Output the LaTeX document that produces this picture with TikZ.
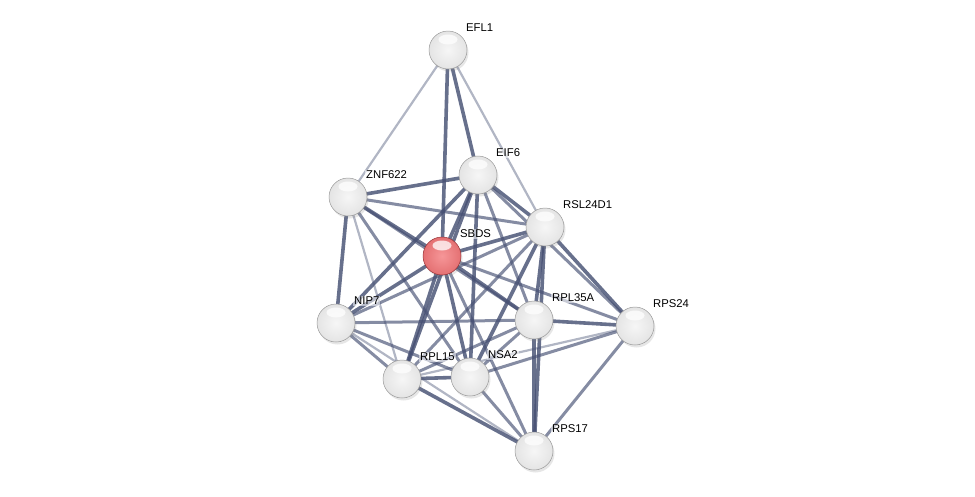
\documentclass[tikz,border=0pt]{standalone}
\usepackage{fontspec}
\setmainfont{Liberation Sans}
\usetikzlibrary{shadows}
\definecolor{edgecol}{RGB}{70,80,115}
\definecolor{gA}{RGB}{246,246,246}
\definecolor{gB}{RGB}{226,226,226}
\definecolor{gC}{RGB}{205,205,205}
\definecolor{gD}{RGB}{150,150,150}
\definecolor{rA}{RGB}{246,150,152}
\definecolor{rB}{RGB}{226,108,110}
\definecolor{rC}{RGB}{200,80,84}
\definecolor{rD}{RGB}{150,50,54}
\pgfdeclareradialshading{greyball}{\pgfpoint{0bp}{0bp}}{color(0bp)=(gA); color(28bp)=(gB); color(42bp)=(gC); color(48bp)=(gD); color(50bp)=(gD)}
\pgfdeclareradialshading{redball}{\pgfpoint{0bp}{0bp}}{color(0bp)=(rA); color(28bp)=(rB); color(42bp)=(rC); color(48bp)=(rD); color(50bp)=(rD)}
\tikzset{
  prot/.style={circle, minimum size=38pt, inner sep=0pt, shading=greyball, draw=gray!80, line width=0.5pt,
    drop shadow={opacity=0.2, shadow xshift=1.5pt, shadow yshift=-2.5pt},
    path picture={\fill[white, opacity=0.75] ([yshift=10.5pt]path picture bounding box.center) ellipse (9.5pt and 5pt);}},
  seed/.style={prot, shading=redball, draw=rD},
  lbl/.style={anchor=west, inner sep=1pt, fill=white, fill opacity=0.55, text opacity=1, font=\fontsize{11.3}{13}\selectfont},
  es/.style={draw=edgecol, line width=3.6pt, draw opacity=0.82},
  em/.style={draw=edgecol, line width=3pt, draw opacity=0.66},
  ew/.style={draw=edgecol, line width=2.2pt, draw opacity=0.42},
}
\begin{document}
\begin{tikzpicture}[x=1pt,y=-1pt]
\useasboundingbox (0,0) rectangle (975,496);
% node centres
\coordinate (cEFL1) at (448,50);
\coordinate (cEIF6) at (478,175);
\coordinate (cZNF) at (348,197);
\coordinate (cRSL) at (545,227);
\coordinate (cSBDS) at (442,256);
\coordinate (cNIP7) at (336,323);
\coordinate (cL35) at (534,320);
\coordinate (cS24) at (635,326);
\coordinate (cL15) at (402,379);
\coordinate (cNSA2) at (470,377);
\coordinate (cS17) at (534,451);
% edges
\draw[ew] (cEFL1) -- (cZNF);
\draw[es] (cEFL1) -- (cSBDS);
\draw[es] (cEFL1) -- (cEIF6);
\draw[ew] (cEFL1) -- (cRSL);
\draw[es] (cZNF) -- (cEIF6);
\draw[em] (cZNF) -- (cRSL);
\draw[es] (cZNF) -- (cSBDS);
\draw[es] (cZNF) -- (cNIP7);
\draw[ew] (cZNF) -- (cL15);
\draw[em] (cZNF) -- (cNSA2);
\draw[em] (cZNF) -- (cL35);
\draw[es] (cEIF6) -- (cSBDS);
\draw[es] (cEIF6) -- (cRSL);
\draw[es] (cEIF6) -- (cNIP7);
\draw[es] (cEIF6) -- (cL15);
\draw[es] (cEIF6) -- (cNSA2);
\draw[em] (cEIF6) -- (cL35);
\draw[em] (cEIF6) -- (cS24);
\draw[es] (cSBDS) -- (cRSL);
\draw[es] (cSBDS) -- (cNIP7);
\draw[es] (cSBDS) -- (cL15);
\draw[es] (cSBDS) -- (cNSA2);
\draw[es] (cSBDS) -- (cL35);
\draw[em] (cSBDS) -- (cS24);
\draw[em] (cSBDS) -- (cS17);
\draw[em] (cRSL) -- (cNIP7);
\draw[em] (cRSL) -- (cL15);
\draw[es] (cRSL) -- (cNSA2);
\draw[es] (cRSL) -- (cL35);
\draw[es] (cRSL) -- (cS17);
\draw[es] (cRSL) -- (cS24);
\draw[em] (cNIP7) -- (cL35);
\draw[em] (cNIP7) -- (cL15);
\draw[em] (cNIP7) -- (cNSA2);
\draw[ew] (cNIP7) -- (cS17);
\draw[es] (cL15) -- (cNSA2);
\draw[em] (cL15) -- (cL35);
\draw[ew] (cL15) -- (cS24);
\draw[es] (cL15) -- (cS17);
\draw[em] (cNSA2) -- (cL35);
\draw[em] (cNSA2) -- (cS24);
\draw[em] (cNSA2) -- (cS17);
\draw[es] (cL35) -- (cS24);
\draw[es] (cL35) -- (cS17);
\draw[em] (cS24) -- (cS17);
% nodes
\node[prot] (EFL1) at (cEFL1) {};
\node[prot] (EIF6) at (cEIF6) {};
\node[prot] (ZNF622) at (cZNF) {};
\node[prot] (RSL24D1) at (cRSL) {};
\node[seed] (SBDS) at (cSBDS) {};
\node[prot] (NIP7) at (cNIP7) {};
\node[prot] (RPL35A) at (cL35) {};
\node[prot] (RPS24) at (cS24) {};
\node[prot] (RPL15) at (cL15) {};
\node[prot] (NSA2) at (cNSA2) {};
\node[prot] (RPS17) at (cS17) {};
% labels
\node[lbl] (tEFL1) at ([shift={(17,-22)}]cEFL1) {EFL1};
\node[lbl] (tEIF6) at ([shift={(17,-22)}]cEIF6) {EIF6};
\node[lbl] (tZNF) at ([shift={(17,-22)}]cZNF) {ZNF622};
\node[lbl] (tRSL) at ([shift={(17,-22)}]cRSL) {RSL24D1};
\node[lbl] (tSBDS) at ([shift={(17,-22)}]cSBDS) {SBDS};
\node[lbl] (tNIP7) at ([shift={(17,-22)}]cNIP7) {NIP7};
\node[lbl] (tL35) at ([shift={(17,-22)}]cL35) {RPL35A};
\node[lbl] (tS24) at ([shift={(17,-22)}]cS24) {RPS24};
\node[lbl] (tL15) at ([shift={(17,-22)}]cL15) {RPL15};
\node[lbl] (tNSA2) at ([shift={(17,-22)}]cNSA2) {NSA2};
\node[lbl] (tS17) at ([shift={(17,-22)}]cS17) {RPS17};
\end{tikzpicture}
\end{document}
